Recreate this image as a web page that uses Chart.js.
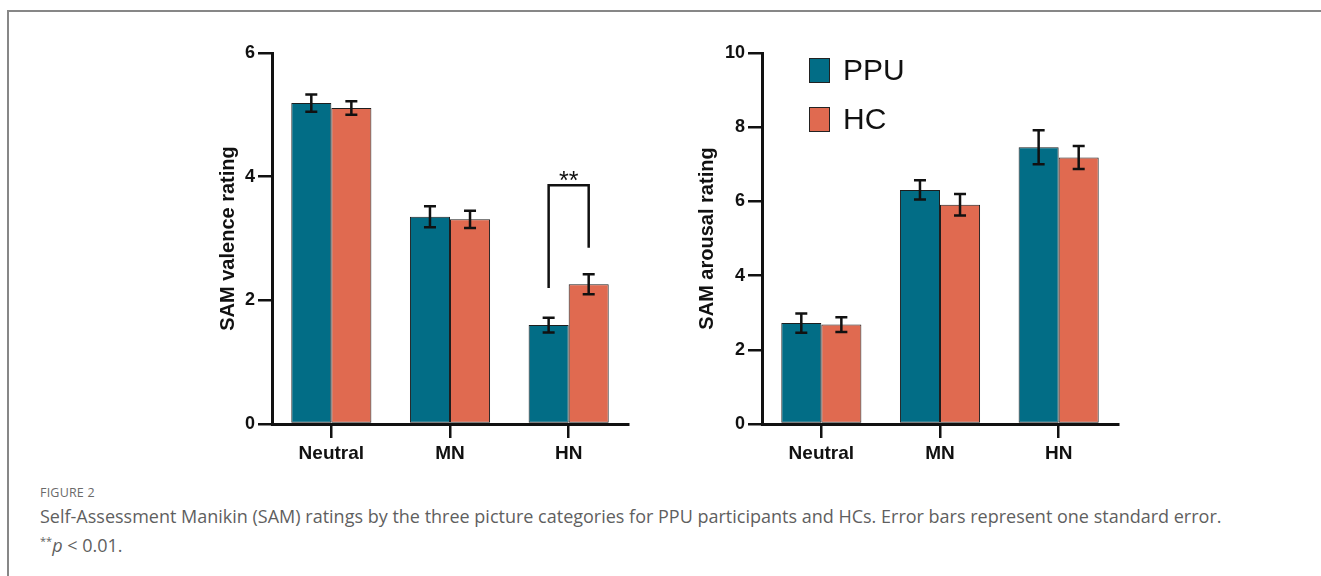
<!DOCTYPE html>
<html>
<head>
<meta charset="utf-8">
<script src="https://cdn.jsdelivr.net/npm/chart.js@4.4.1/dist/chart.umd.min.js"></script>
<style>
  html, body { margin: 0; padding: 0; background: #fff; width: 1321px; height: 576px; overflow: hidden; }
  #frame { position: absolute; left: 7px; top: 10px; right: 0; bottom: 0; border-left: 2px solid #878787; border-top: 2px solid #878787; }
  canvas { position: absolute; }
  #c1 { left: 200px; top: 30px; }
  #c2 { left: 690px; top: 30px; }
  .cap { position: absolute; left: 40px; font-family: "Open Sans", "Noto Sans", sans-serif; color: #5f5f5f; white-space: nowrap; line-height: 24px; }
  #figlabel { top: 481px; font-size: 12.5px; letter-spacing: 0.2px; color: #6a6a6a; }
  #cap1 { top: 504px; font-size: 18px; }
  #cap2 { top: 529px; font-size: 18px; }
</style>
</head>
<body>
<div id="frame"></div>
<canvas id="c1" width="440" height="450"></canvas>
<canvas id="c2" width="440" height="450"></canvas>
<div class="cap" id="figlabel">FIGURE 2</div>
<div class="cap" id="cap1">Self-Assessment Manikin (SAM) ratings by the three picture categories for PPU participants and HCs. Error bars represent one standard error.</div>
<div class="cap" id="cap2"><sup style="font-size:11px">**</sup><i>p</i> &lt; 0.01.</div>
<script>
// ---- data ----
const categories = ['Neutral', 'MN', 'HN'];
const seriesNames = ['PPU', 'HC'];
const seriesColors = ['#026D86', '#E06A50'];

const valencePPU   = [5.19, 3.35, 1.60];
const valencePPUse = [0.14, 0.17, 0.12];
const valenceHC    = [5.11, 3.31, 2.26];
const valenceHCse  = [0.11, 0.14, 0.16];

const arousalPPU   = [2.72, 6.31, 7.46];
const arousalPPUse = [0.26, 0.26, 0.46];
const arousalHC    = [2.68, 5.91, 7.18];
const arousalHCse  = [0.20, 0.29, 0.31];

const valenceAxis = { min: 0, max: 6, step: 2, title: 'SAM valence rating' };
const arousalAxis = { min: 0, max: 10, step: 2, title: 'SAM arousal rating' };

// significance bracket (left panel): category index, left leg bottom, top, right leg bottom
const sigCategory = 2;
const sigLeftBottom = 2.2;
const sigTop = 3.86;
const sigRightBottom = 2.85;
const sigLabel = '**';

// ---- plugins ----
const errorBarPlugin = {
  id: 'errorBars',
  afterDatasetsDraw(chart) {
    const ctx = chart.ctx;
    const yScale = chart.scales.y;
    ctx.save();
    ctx.strokeStyle = '#111';
    ctx.lineWidth = 2.5;
    chart.data.datasets.forEach((ds, di) => {
      const meta = chart.getDatasetMeta(di);
      meta.data.forEach((bar, i) => {
        const v = ds.data[i], e = ds.errors[i];
        const yTop = yScale.getPixelForValue(v + e);
        const yBot = yScale.getPixelForValue(v - e);
        const x = bar.x, hw = 6;
        ctx.beginPath();
        ctx.moveTo(x, yTop); ctx.lineTo(x, yBot);
        ctx.moveTo(x - hw, yTop); ctx.lineTo(x + hw, yTop);
        ctx.moveTo(x - hw, yBot); ctx.lineTo(x + hw, yBot);
        ctx.stroke();
      });
    });
    ctx.restore();
  }
};

const sigPlugin = {
  id: 'sigBracket',
  afterDatasetsDraw(chart, args, opts) {
    if (!opts || !opts.enabled) return;
    const ctx = chart.ctx;
    const y = chart.scales.y;
    const b0 = chart.getDatasetMeta(0).data[opts.category];
    const b1 = chart.getDatasetMeta(1).data[opts.category];
    const yl = y.getPixelForValue(opts.leftBottom);
    const yt = y.getPixelForValue(opts.top);
    const yr = y.getPixelForValue(opts.rightBottom);
    ctx.save();
    ctx.strokeStyle = '#111';
    ctx.lineWidth = 2.5;
    ctx.lineJoin = 'miter';
    ctx.beginPath();
    ctx.moveTo(b0.x, yl); ctx.lineTo(b0.x, yt); ctx.lineTo(b1.x, yt); ctx.lineTo(b1.x, yr);
    ctx.stroke();
    ctx.fillStyle = '#111';
    ctx.font = '25px "Liberation Sans", Arial, sans-serif';
    ctx.textAlign = 'center';
    ctx.textBaseline = 'alphabetic';
    ctx.fillText(opts.label, (b0.x + b1.x) / 2, yt + 4);
    ctx.restore();
  }
};

const legendPlugin = {
  id: 'customLegend',
  afterDraw(chart, args, opts) {
    if (!opts || !opts.enabled) return;
    const ctx = chart.ctx;
    const area = chart.chartArea;
    ctx.save();
    chart.data.datasets.forEach((ds, i) => {
      const bx = area.left + 47, by = area.top + 5 + i * 49;
      ctx.fillStyle = ds.backgroundColor;
      ctx.fillRect(bx, by, 21, 25);
      ctx.strokeStyle = '#222';
      ctx.lineWidth = 1;
      ctx.strokeRect(bx + 0.5, by + 0.5, 20, 24);
      ctx.fillStyle = '#111';
      ctx.font = '30px "Liberation Sans", Arial, sans-serif';
      ctx.textAlign = 'left';
      ctx.textBaseline = 'middle';
      ctx.fillText(ds.label, bx + 34, by + 13.5);
    });
    ctx.restore();
  }
};

function makeChart(id, a, b, ae, be, axis, titlePadTop, opts) {
  const tickFont = { family: '"Liberation Sans", Arial, sans-serif', size: 18, weight: 'bold' };
  return new Chart(document.getElementById(id), {
    type: 'bar',
    data: {
      labels: categories,
      datasets: [
        { label: seriesNames[0], data: a, errors: ae, backgroundColor: seriesColors[0], borderColor: '#1e1e1e', borderWidth: 1, borderSkipped: false },
        { label: seriesNames[1], data: b, errors: be, backgroundColor: seriesColors[1], borderColor: '#1e1e1e', borderWidth: 1, borderSkipped: false }
      ]
    },
    options: {
      responsive: false,
      animation: false,
      devicePixelRatio: 1,
      layout: { padding: { top: 23, right: 12, left: 0, bottom: 0 } },
      datasets: { bar: { categoryPercentage: 0.675, barPercentage: 1.0 } },
      plugins: {
        legend: { display: false },
        tooltip: { enabled: false },
        sigBracket: opts.sig || { enabled: false },
        customLegend: opts.legend || { enabled: false }
      },
      scales: {
        x: {
          offset: true,
          grid: { display: true, offset: false, drawOnChartArea: false, drawTicks: true, tickLength: 14, color: '#111', lineWidth: 2.5 },
          border: { display: true, color: '#111', width: 3 },
          ticks: { color: '#111', font: { family: '"Liberation Sans", Arial, sans-serif', size: 19, weight: 'bold' }, padding: 4, maxRotation: 0 },
          afterFit(s) { s.height = 56; }
        },
        y: {
          min: axis.min, max: axis.max,
          grid: { display: true, drawOnChartArea: false, drawTicks: true, tickLength: 14, color: '#111', lineWidth: 2.5 },
          border: { display: true, color: '#111', width: 3 },
          ticks: { stepSize: axis.step, color: '#111', font: tickFont, padding: 3 },
          title: { display: true, text: axis.title, color: '#111', font: { family: '"Liberation Sans", Arial, sans-serif', size: 20, weight: 'bold' }, padding: { top: titlePadTop, bottom: 0 } },
          afterFit(s) { s.width = 72; }
        }
      }
    },
    plugins: [errorBarPlugin, sigPlugin, legendPlugin]
  });
}

makeChart('c1', valencePPU, valenceHC, valencePPUse, valenceHCse, valenceAxis, 16, {
  sig: { enabled: true, category: sigCategory, leftBottom: sigLeftBottom, top: sigTop, rightBottom: sigRightBottom, label: sigLabel }
});
makeChart('c2', arousalPPU, arousalHC, arousalPPUse, arousalHCse, arousalAxis, 5, {
  legend: { enabled: true }
});
</script>
</body>
</html>
